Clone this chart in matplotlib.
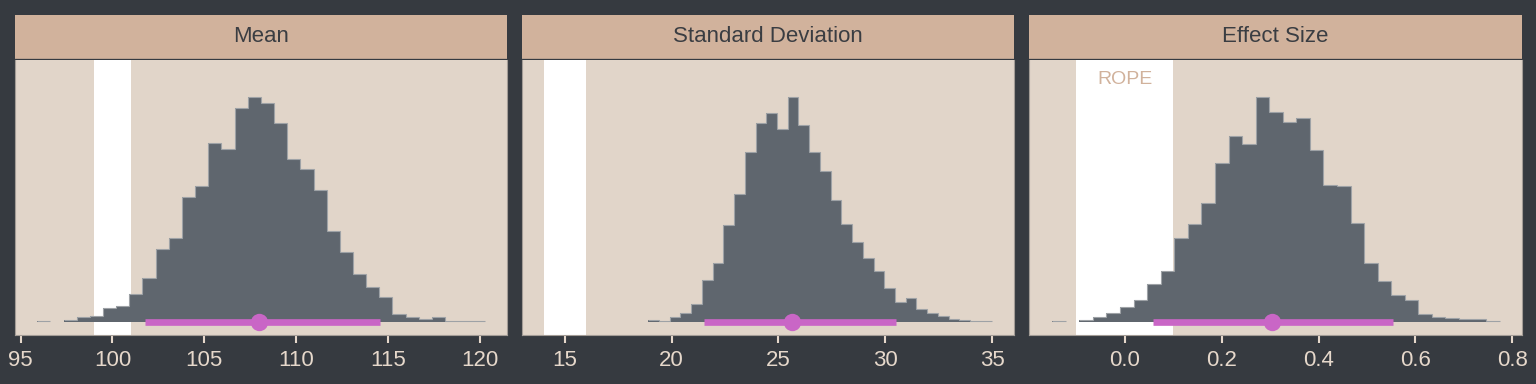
import numpy as np
import matplotlib
matplotlib.use("Agg")
import matplotlib.pyplot as plt

plt.rcParams['font.family'] = ['Liberation Sans', 'DejaVu Sans']

# posterior histograms (relative counts)
titles = ["Mean", "Standard Deviation", "Effect Size"]

mean_range = (95.91, 120.25)
mean_counts = [2, 0, 5, 14, 16, 40, 47, 82, 131, 218, 250, 373, 406, 536, 518, 640,
               674, 656, 596, 488, 457, 395, 271, 208, 143, 105, 73, 23, 14, 9, 14, 1, 3, 1]
sd_range = (18.9, 34.98)
sd_counts = [5, 1, 14, 26, 53, 125, 176, 291, 382, 510, 596, 625, 577, 674, 591, 508,
             451, 366, 293, 238, 190, 151, 100, 60, 70, 38, 26, 18, 8, 6, 1, 1]
es_range = (-0.150, 0.774)
es_counts = [1, 0, 4, 14, 25, 44, 65, 112, 151, 250, 294, 356, 477, 558, 532, 674,
             629, 600, 610, 515, 409, 406, 295, 177, 123, 80, 65, 24, 14, 11, 8, 7, 2]

# ROPE bands
ropes = [(99, 101), (14, 16), (-0.1, 0.1)]
# credible interval (low, point, high)
intervals = [(101.77, 107.97, 114.54), (21.52, 25.65, 30.49), (0.058, 0.304, 0.554)]

xlims = [(94.7, 121.47), (12.99, 36.03), (-0.198, 0.82)]
xticks = [[95, 100, 105, 110, 115, 120], [15, 20, 25, 30, 35], [0.0, 0.2, 0.4, 0.6, 0.8]]
xticklabels = [["95", "100", "105", "110", "115", "120"],
               ["15", "20", "25", "30", "35"],
               ["0.0", "0.2", "0.4", "0.6", "0.8"]]

hists = [(mean_range, mean_counts), (sd_range, sd_counts), (es_range, es_counts)]

BG = "#363a40"
STRIP = "#d1b29c"
PANEL = "#e1d5c9"
BARS = "#5f666e"
PINK = "#c966c6"
TICKC = "#e6d8cb"

fig = plt.figure(figsize=(15.36, 3.84), dpi=100, facecolor=BG)
H = 384.0
W = 1536.0
lefts = [15, 522, 1029]
rights = [507, 1014, 1522]

for i in range(3):
    x0 = lefts[i] / W
    w = (rights[i] - lefts[i]) / W
    ax = fig.add_axes([x0, 1 - 335 / H, w, 275 / H])
    ax.set_facecolor(PANEL)

    (lo, hi), counts = hists[i]
    edges = np.linspace(lo, hi, len(counts) + 1)

    r0, r1 = ropes[i]
    ax.axvspan(r0, r1, color="white", zorder=1, lw=0)

    ax.stairs(counts, edges, fill=True, color=BARS, zorder=2)
    outline = np.where(np.array(counts) > 0, counts, np.nan)
    ax.stairs(outline, edges, baseline=None, color="#9ea2a6", lw=0.8, zorder=2.5)

    lo_i, pt, hi_i = intervals[i]
    ax.plot([lo_i, hi_i], [0, 0], color=PINK, lw=4.8, solid_capstyle="butt", zorder=3)
    ax.plot([pt], [0], "o", color=PINK, ms=12.5, mec="none", zorder=4)

    if i == 2:
        ax.text(0.0, 728, "ROPE", color=STRIP, fontsize=14, ha="center", va="center", zorder=5)

    ax.set_xlim(*xlims[i])
    ax.set_ylim(-40, 785)
    ax.set_yticks([])
    ax.set_xticks(xticks[i])
    ax.set_xticklabels(xticklabels[i])
    ax.tick_params(axis="x", colors=TICKC, labelcolor=TICKC, labelsize=16, length=6,
                   width=1.5, pad=5, direction="out")
    for s in ax.spines.values():
        s.set_color("#a39c96")
        s.set_linewidth(0.8)
    ax.spines["top"].set_visible(False)

    # facet strip
    sax = fig.add_axes([x0, 1 - 59 / H, w, 44 / H])
    sax.set_facecolor(STRIP)
    sax.set_xticks([])
    sax.set_yticks([])
    for s in sax.spines.values():
        s.set_visible(False)
    sax.axhline(0, color="#b39d8d", lw=1.2)
    sax.text(0.5, 0.5, titles[i], transform=sax.transAxes, ha="center", va="center",
             fontsize=16, color="#3a3d42")

fig.savefig("out.png", dpi=100, facecolor=BG)
